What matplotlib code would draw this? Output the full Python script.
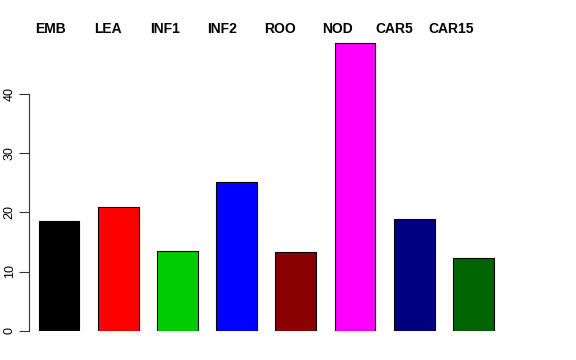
import numpy as np
import matplotlib
matplotlib.use("Agg")
import matplotlib.pyplot as plt

plt.rcParams['font.family'] = ['Liberation Sans', 'DejaVu Sans']

#### Data

categories = ['EMB', 'LEA', 'INF1', 'INF2', 'ROO', 'NOD', 'CAR5', 'CAR15']
values = [18.6, 20.9, 13.4, 25.1, 13.3, 48.6, 18.8, 12.3]
bar_colors = ['#000000', '#FF0000', '#00CD00', '#0000FF',
              '#8B0000', '#FF00FF', '#000080', '#006400']
y_ticks = [0, 10, 20, 30, 40]


#### Plot

W, H = 576, 360
fig = plt.figure(figsize=(W / 100, H / 100), dpi=100)
# axes placed in pixel terms to mimic the R barplot layout
left_px, right_px, bottom_px, top_px = 29, 503, 330.7, 34.7
ax = fig.add_axes([left_px / W, (H - bottom_px) / H,
                   (right_px - left_px) / W, (bottom_px - top_px) / H])

x = np.arange(len(categories))
ax.bar(x, values, width=0.69, color=bar_colors, edgecolor='black', linewidth=0.8)
ax.set_xlim(-0.507, 7.5)
ax.set_ylim(0, 50)

# labels across the top, slightly left of each bar
label_x = x * 0.968 - 0.144
for lx, name in zip(label_x, categories):
    ax.text(lx, 50.9, name, ha='center', va='center', fontsize=10,
            fontweight='bold', clip_on=False)

for side in ['top', 'right', 'bottom']:
    ax.spines[side].set_visible(False)
ax.spines['left'].set_bounds(0, 40)
ax.spines['left'].set_color('#333333')
ax.set_xticks([])
ax.set_yticks(y_ticks)
ax.set_yticklabels([str(t) for t in y_ticks], rotation=90, va='center', fontsize=9)
ax.tick_params(axis='y', length=7, width=0.8, color='#333333', pad=2.5)

fig.savefig('out.png', dpi=100)
